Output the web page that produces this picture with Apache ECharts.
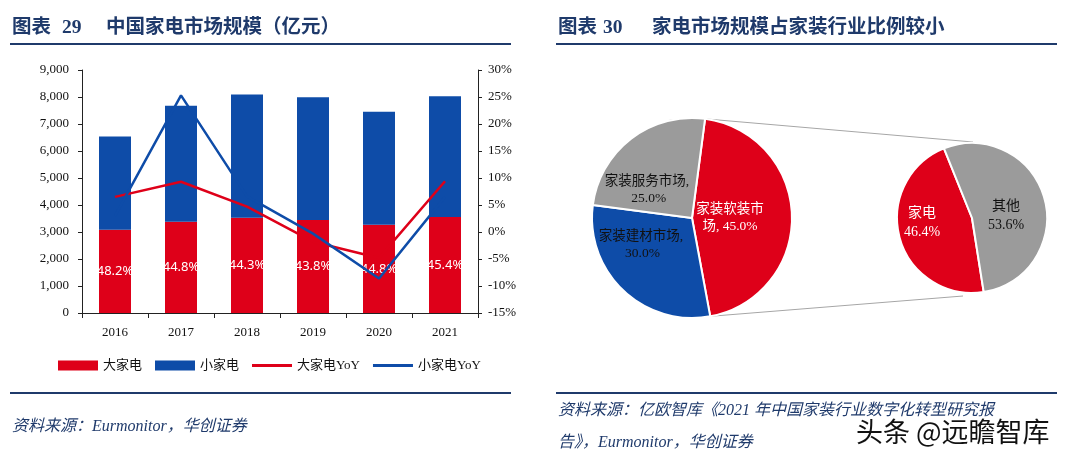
<!DOCTYPE html>
<html>
<head>
<meta charset="utf-8">
<script src="https://cdn.jsdelivr.net/npm/echarts@6/dist/echarts.min.js"></script>
<style>
  html, body { margin: 0; padding: 0; background: #fff; }
  #main { width: 1080px; height: 460px; }
</style>
</head>
<body>
<div id="main"></div>
<script>
// 图表29 数据
var years = ['2016', '2017', '2018', '2019', '2020', '2021'];
var bigVals = [3080, 3380, 3530, 3440, 3270, 3560];      // 大家电
var smallVals = [3460, 4300, 4560, 4550, 4180, 4470];    // 小家电
var bigYoY = [6.5, 9.3, 4.7, -1.8, -4.8, 9.4];           // 大家电YoY %
var smallYoY = [3.0, 25.3, 6.6, -0.3, -8.6, 6.5];        // 小家电YoY %
var shareLabels = ['48.2%', '44.8%', '44.3%', '43.8%', '44.8%', '45.4%'];

// 图表30 数据
var homeNames = ['家装软装市场', '家装建材市场', '家装服务市场'];
var homeShares = [45, 30, 25];
var applNames = ['家电', '其他'];
var applShares = [46.4, 53.6];

var RED = '#DE0019';
var BLUE = '#0E4CA8';
var GRAY = '#9B9B9B';
var NAVY = '#1F3A6B';
var SERIF = "'Liberation Serif', 'Noto Sans CJK SC'";

var pie1 = { cx: 692, cy: 218, r: 100, start: 82.5 };
var pie2 = { cx: 972, cy: 218, r: 75, start: 279 };

// 饼图样式（与数据分开）
var homeColors = [RED, BLUE, GRAY];
var homeText = ['#fff', '#111', '#111'];
var homeLabelW = [70, 95, 95];
var homeShift = [[-15, 1], [-13, -11], [-11, 14]];
var applColors = [RED, GRAY];
var applText = ['#fff', '#111'];
var applShift = [[-11, -6], [-5, 9]];

var homeData = homeNames.map(function (n, i) {
  return { name: n, value: homeShares[i], itemStyle: { color: homeColors[i] },
    label: { color: homeText[i], width: homeLabelW[i] } };
});
var applData = applNames.map(function (n, i) {
  return { name: n, value: applShares[i], itemStyle: { color: applColors[i] },
    label: { color: applText[i] } };
});

// 连接线端点
var a1 = pie1.start * Math.PI / 180;
var a1e = (pie1.start - 360 * homeShares[0] / 100) * Math.PI / 180;
var topA = [pie1.cx + pie1.r * Math.cos(a1), pie1.cy - pie1.r * Math.sin(a1)];
var botA = [pie1.cx + pie1.r * Math.cos(a1e), pie1.cy - pie1.r * Math.sin(a1e)];
var topB = [pie2.cx + 1, pie2.cy - pie2.r - 1];
var botB = [pie2.cx - 9, pie2.cy + pie2.r + 3];

function txt(x, y, text, font, fill) {
  return { type: 'text', x: x, y: y,
    style: { text: text, font: font, fill: fill || NAVY, textVerticalAlign: 'middle' } };
}
function hline(x1, x2, y) {
  return { type: 'line', shape: { x1: x1, y1: y, x2: x2, y2: y },
    style: { stroke: NAVY, lineWidth: 2 } };
}

var titleFont = "bold 19.5px " + SERIF;
var srcFont = "italic 16px " + SERIF;
var lineIcon = 'path://M0,0L37,0L37,3L0,3Z';

var myChart = echarts.init(document.getElementById('main'));
var option = {
  animation: false,
  textStyle: { fontFamily: SERIF },
  grid: { left: 82, top: 70, width: 396, height: 243 },
  legend: {
    left: 58, top: 359, padding: 0, itemWidth: 40, itemHeight: 10, itemGap: 13,
    textStyle: { fontSize: 13, color: '#111', fontFamily: SERIF },
    data: [
      { name: '大家电', icon: 'rect' },
      { name: '小家电', icon: 'rect' },
      { name: '大家电YoY', icon: lineIcon },
      { name: '小家电YoY', icon: lineIcon }
    ]
  },
  xAxis: {
    type: 'category', data: years,
    axisLine: { lineStyle: { color: '#222' } },
    axisTick: { show: true, length: 5, lineStyle: { color: '#222' } },
    axisLabel: { color: '#111', fontSize: 13, margin: 13 }
  },
  yAxis: [{
    type: 'value', min: 0, max: 9000, interval: 1000,
    splitLine: { show: false },
    axisLine: { show: true, lineStyle: { color: '#222' } },
    axisTick: { show: true, length: 4, lineStyle: { color: '#222' } },
    axisLabel: { color: '#111', fontSize: 13, margin: 13,
      formatter: function (v) { return v.toLocaleString('en-US'); } }
  }, {
    type: 'value', min: -15, max: 30, interval: 5, position: 'right',
    splitLine: { show: false },
    axisLine: { show: true, lineStyle: { color: '#222' } },
    axisTick: { show: true, length: 4, lineStyle: { color: '#222' } },
    axisLabel: { color: '#111', fontSize: 13, margin: 10, formatter: '{value}%' }
  }],
  series: [{
    name: '大家电', type: 'bar', stack: 'total', barWidth: 32, data: bigVals,
    itemStyle: { color: RED },
    label: { show: true, position: 'inside', color: '#fff', fontSize: 13,
      fontFamily: "'Noto Sans', sans-serif",
      formatter: function (p) { return shareLabels[p.dataIndex]; } }
  }, {
    name: '小家电', type: 'bar', stack: 'total', barWidth: 32, data: smallVals,
    itemStyle: { color: BLUE }
  }, {
    name: '大家电YoY', type: 'line', yAxisIndex: 1, data: bigYoY, symbol: 'none',
    lineStyle: { color: RED, width: 2.5 }, itemStyle: { color: RED }
  }, {
    name: '小家电YoY', type: 'line', yAxisIndex: 1, data: smallYoY, symbol: 'none',
    lineStyle: { color: BLUE, width: 2.5 }, itemStyle: { color: BLUE }
  }, {
    name: '家装', type: 'pie', center: [pie1.cx, pie1.cy], radius: pie1.r,
    startAngle: pie1.start, clockwise: true, silent: true, data: homeData,
    itemStyle: { borderColor: '#fff', borderWidth: 2 },
    labelLine: { show: false },
    label: { position: 'inside', fontSize: 13.5, lineHeight: 17, overflow: 'break',
      align: 'center', fontFamily: SERIF,
      formatter: function (p) { return p.name + ', ' + p.value.toFixed(1) + '%'; } },
    labelLayout: function (p) {
      return { dx: homeShift[p.dataIndex][0], dy: homeShift[p.dataIndex][1] };
    }
  }, {
    name: '家电占比', type: 'pie', center: [pie2.cx, pie2.cy], radius: pie2.r,
    startAngle: pie2.start, clockwise: true, silent: true, data: applData,
    itemStyle: { borderColor: '#fff', borderWidth: 2 },
    labelLine: { show: false },
    label: { position: 'inside', fontSize: 14, lineHeight: 19, fontFamily: SERIF,
      formatter: function (p) { return p.name + '\n' + p.value.toFixed(1) + '%'; } },
    labelLayout: function (p) {
      return { dx: applShift[p.dataIndex][0], dy: applShift[p.dataIndex][1] };
    }
  }],
  graphic: [
    txt(12, 28, '图表', titleFont), txt(62, 28, '29', titleFont),
    txt(106, 28, '中国家电市场规模（亿元）', titleFont),
    hline(10, 511, 44),
    hline(10, 511, 393),
    txt(12, 427, '资料来源：Eurmonitor，华创证券', srcFont),

    txt(558, 28, '图表', titleFont), txt(603, 28, '30', titleFont),
    txt(652, 28, '家电市场规模占家装行业比例较小', titleFont),
    hline(556, 1057, 44),
    hline(556, 1057, 393),
    txt(558, 411, '资料来源：亿欧智库《2021 年中国家装行业数字化转型研究报', srcFont),
    txt(558, 443, '告》，Eurmonitor，华创证券', srcFont),
    { type: 'line', shape: { x1: topA[0], y1: topA[1], x2: topB[0], y2: topB[1] },
      style: { stroke: '#A6A6A6', lineWidth: 1 } },
    { type: 'line', shape: { x1: botA[0], y1: botA[1], x2: botB[0], y2: botB[1] },
      style: { stroke: '#A6A6A6', lineWidth: 1 } },
    { type: 'text', x: 856, y: 432, z: 100,
      style: { text: '头条 @远瞻智库', font: "27px 'Noto Sans CJK SC'", fill: '#111',
        stroke: '#fff', lineWidth: 3, textVerticalAlign: 'middle' } }
  ]
};
myChart.setOption(option);
</script>
</body>
</html>
